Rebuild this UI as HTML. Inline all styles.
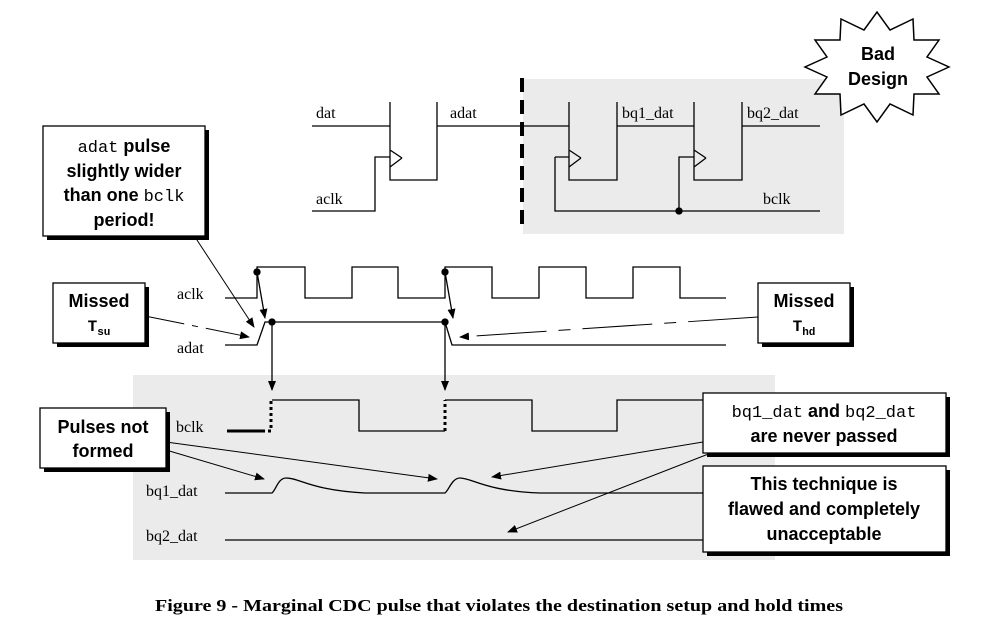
<!DOCTYPE html>
<html><head><meta charset="utf-8"><style>
html,body{margin:0;padding:0;background:#fff;}
svg{display:block;}
.s{font-family:"Liberation Serif",serif;font-size:16px;fill:#000;}
.b{font-family:"Liberation Sans",sans-serif;font-weight:bold;font-size:18px;fill:#000;}
.m{font-family:"Liberation Mono",monospace;font-size:17px;fill:#000;}
</style></head><body>
<svg width="984" height="632" viewBox="0 0 984 632" xmlns="http://www.w3.org/2000/svg">
<defs><marker id="a" markerWidth="10" markerHeight="8" refX="9" refY="4" orient="auto" markerUnits="userSpaceOnUse"><path d="M0,0 L10,4 L0,8 z" fill="#000"/></marker></defs>
<g fill="none" stroke="#000" stroke-width="1.3">
<rect x="523" y="79" width="321" height="155" fill="#ebebeb" stroke="none"/>
<rect x="133" y="375" width="642" height="185" fill="#ebebeb" stroke="none"/>
<path d="M312,126 H390 M390,102 V180 H437 V102 M402,158 L390,150 M402,158 L390,167 M312,211 H375 V157 H390 M437,126 H569"/>
<line x1="522" y1="78" x2="522" y2="232" stroke-width="4" stroke-dasharray="14,8"/>
<path d="M569,102 V180 H617 V102 M581,158 L569,150 M581,158 L569,167 M617,126 H694 M694,102 V180 H742 V102 M706,158 L694,150 M706,158 L694,167 M742,126 H820 M555,157 H569 M555,157 V211 H820 M679,211 V157 H694"/>
<circle cx="679" cy="211" r="3" fill="#000"/>
<polygon fill="#fff" stroke-width="1.5" points="949,67 927,77 939,94 914,94 913,115 890,104 877,122 864,104 841,115 840,94 815,94 827,77 805,67 827,57 815,40 840,40 841,19 864,30 877,12 890,30 913,19 914,40 939,40 927,57"/>
<path d="M225,298 H257 V267 H305 V298 H352 V267 H398 V298 H445 V267 H492 V298 H539 V267 H586 V298 H633 V267 H680 V298 H726"/>
<path d="M225,345 H257 L265,322 H445 L452,345 H726"/>
<circle cx="257" cy="272" r="3" fill="#000"/><circle cx="445" cy="272" r="3" fill="#000"/>
<circle cx="272" cy="322" r="3" fill="#000"/><circle cx="445" cy="322" r="3" fill="#000"/>
<line x1="257" y1="272" x2="265" y2="318" marker-end="url(#a)"/>
<line x1="445" y1="272" x2="453" y2="318" marker-end="url(#a)"/>
<line x1="272" y1="322" x2="272" y2="390" marker-end="url(#a)"/>
<line x1="445" y1="322" x2="445" y2="390" marker-end="url(#a)"/>
<line x1="227" y1="431" x2="262" y2="431" stroke-width="3"/>
<path d="M262,431 H271 V400" stroke-width="3" stroke-dasharray="3,3"/>
<path d="M445,431 V400" stroke-width="3" stroke-dasharray="3,3"/>
<path d="M272,400 H359 V431 H445 M445,400 H532 V431 H617 V400 H703"/>
<path d="M225,493 H272 C276,490 278,478 286,478 C300,478 310,490 365,493 H445 C449,490 452,478 460,478 C472,478 485,491 540,493 H703"/>
<path d="M225,540 H703"/>
<rect x="47" y="130" width="162" height="110" fill="#000" stroke="none"/>
<rect x="43" y="126" width="162" height="110" fill="#fff"/>
<rect x="57" y="287" width="92" height="60" fill="#000" stroke="none"/>
<rect x="53" y="283" width="92" height="60" fill="#fff"/>
<rect x="762" y="287" width="92" height="60" fill="#000" stroke="none"/>
<rect x="758" y="283" width="92" height="60" fill="#fff"/>
<rect x="44" y="412" width="126" height="60" fill="#000" stroke="none"/>
<rect x="40" y="408" width="126" height="60" fill="#fff"/>
<rect x="707" y="397" width="243" height="60" fill="#000" stroke="none"/>
<rect x="703" y="393" width="243" height="60" fill="#fff"/>
<rect x="707" y="470" width="243" height="86" fill="#000" stroke="none"/>
<rect x="703" y="466" width="243" height="86" fill="#fff"/>
<line x1="195" y1="237" x2="254" y2="327" stroke-width="1" marker-end="url(#a)"/>
<line x1="145" y1="316" x2="249" y2="337" stroke-width="1" stroke-dasharray="40,8,6,8" marker-end="url(#a)"/>
<line x1="758" y1="317" x2="460" y2="337" stroke-width="1" stroke-dasharray="70,12,12,12" marker-end="url(#a)"/>
<line x1="166" y1="450" x2="264" y2="479" stroke-width="1" marker-end="url(#a)"/>
<line x1="166" y1="442" x2="437" y2="479" stroke-width="1" marker-end="url(#a)"/>
<line x1="703" y1="442" x2="492" y2="477" stroke-width="1" marker-end="url(#a)"/>
<line x1="711" y1="453" x2="508" y2="532" stroke-width="1" marker-end="url(#a)"/>
</g>
<text class="s" x="316" y="118">dat</text>
<text class="s" x="316" y="204">aclk</text>
<text class="s" x="450" y="118">adat</text>
<text class="s" x="622" y="118">bq1_dat</text>
<text class="s" x="747" y="118">bq2_dat</text>
<text class="s" x="763" y="204">bclk</text>
<text class="s" x="177" y="299">aclk</text>
<text class="s" x="177" y="353">adat</text>
<text class="s" x="176" y="432">bclk</text>
<text class="s" x="146" y="496">bq1_dat</text>
<text class="s" x="146" y="541">bq2_dat</text>
<text class="b" x="878" y="60" text-anchor="middle">Bad</text>
<text class="b" x="878" y="85" text-anchor="middle">Design</text>
<text x="124" y="152" text-anchor="middle"><tspan class="m">adat</tspan><tspan class="b"> pulse</tspan></text>
<text class="b" x="124" y="177" text-anchor="middle">slightly wider</text>
<text x="124" y="201" text-anchor="middle"><tspan class="b">than one </tspan><tspan class="m">bclk</tspan></text>
<text class="b" x="124" y="226" text-anchor="middle">period!</text>
<text class="b" x="99" y="307" text-anchor="middle">Missed</text>
<text x="99" y="331" text-anchor="middle" font-family="Liberation Mono,monospace" font-weight="bold" font-size="16">T<tspan font-size="11" dy="4">su</tspan></text>
<text class="b" x="804" y="307" text-anchor="middle">Missed</text>
<text x="804" y="331" text-anchor="middle" font-family="Liberation Mono,monospace" font-weight="bold" font-size="16">T<tspan font-size="11" dy="4">hd</tspan></text>
<text class="b" x="103" y="433" text-anchor="middle">Pulses not</text>
<text class="b" x="103" y="457" text-anchor="middle">formed</text>
<text x="824" y="417" text-anchor="middle"><tspan class="m">bq1_dat</tspan><tspan class="b"> and </tspan><tspan class="m">bq2_dat</tspan></text>
<text class="b" x="824" y="442" text-anchor="middle">are never passed</text>
<text class="b" x="824" y="490" text-anchor="middle">This technique is</text>
<text class="b" x="824" y="515" text-anchor="middle">flawed and completely</text>
<text class="b" x="824" y="540" text-anchor="middle">unacceptable</text>
<text x="155" y="611" textLength="688" lengthAdjust="spacingAndGlyphs" font-family="Liberation Serif,serif" font-weight="bold" font-size="17">Figure 9 - Marginal CDC pulse that violates the destination setup and hold times</text>
</svg>
</body></html>
